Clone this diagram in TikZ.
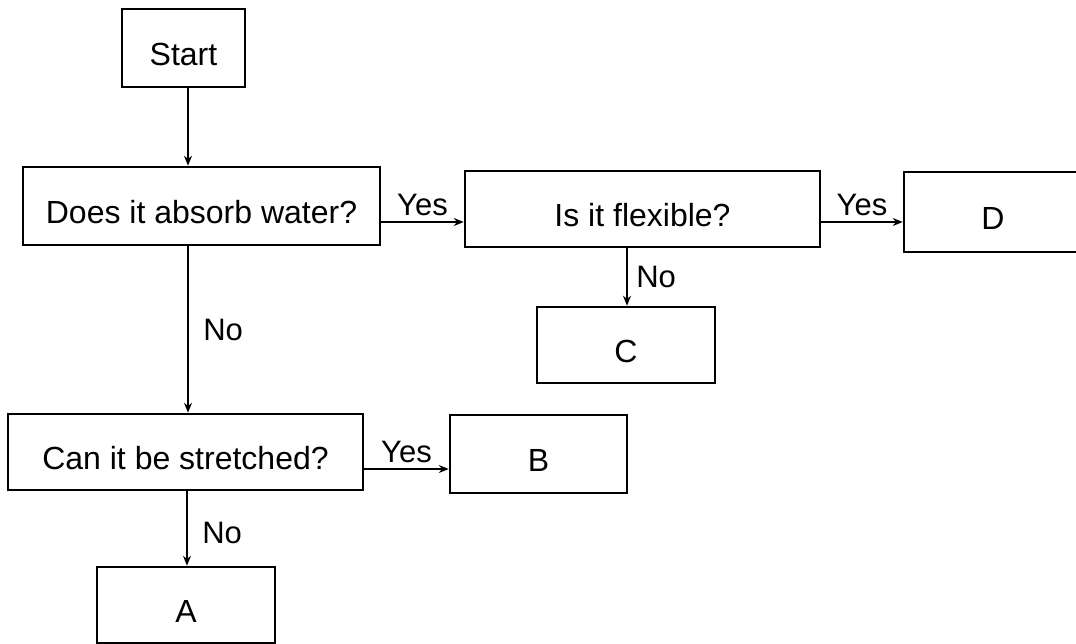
\documentclass[tikz,border=0pt]{standalone}
\usepackage{fontspec}
\setmainfont{Liberation Sans}
\usetikzlibrary{arrows.meta}
\begin{document}
\begin{tikzpicture}[x=1pt,y=-1pt,
  box/.style={draw=black, line width=2.5pt, rectangle, inner sep=0pt,
    font=\fontsize{32}{38}\selectfont, text height=35pt, text depth=0pt},
  lbl/.style={font=\fontsize{31}{37}\selectfont, inner sep=0pt,
    text height=22pt, text depth=0pt},
  arr/.style={line width=2.5pt, -{Stealth[length=10pt,width=8pt]}}]
\useasboundingbox (0,0) rectangle (1076,644);
\fill[white] (0,0) rectangle (1076,644);
\clip (0,0) rectangle (1076,644);
\node[box, minimum width=123pt, minimum height=78pt] (start) at (183.5,48) {Start};
\node[box, minimum width=357pt, minimum height=78pt] (q1) at (201.5,206) {Does it absorb water?};
\node[box, minimum width=355pt, minimum height=76pt] (q2) at (642.5,209) {Is it flexible?};
\node[box, minimum width=178pt, minimum height=80pt] (d) at (993,212) {D};
\node[box, minimum width=178pt, minimum height=76pt] (c) at (626,345) {C};
\node[box, minimum width=355pt, minimum height=76pt] (q3) at (185.5,452) {Can it be stretched?};
\node[box, minimum width=177pt, minimum height=78pt] (b) at (538.5,454) {B};
\node[box, minimum width=178pt, minimum height=76pt] (a) at (186,605) {A};
\coordinate (x1) at (188,0);
\coordinate (x2) at (627,0);
\coordinate (x3) at (187,0);
\coordinate (y1) at (0,222);
\coordinate (y3) at (0,469);
\draw[arr] (start.south -| x1) -- (q1.north -| x1);
\draw[arr] (q1.east |- y1) -- (q2.west |- y1)
  node[lbl, midway, above=5pt] (l1) {Yes};
\draw[arr] (q2.east |- y1) -- (d.west |- y1)
  node[lbl, midway, above=5pt] (l2) {Yes};
\draw[arr] (q2.south -| x2) -- (c.north -| x2)
  node[lbl, midway, right=8pt] (l3) {No};
\draw[arr] (q1.south -| x1) -- (q3.north -| x1)
  node[lbl, midway, right=14pt] (l4) {No};
\draw[arr] (q3.east |- y3) -- (b.west |- y3)
  node[lbl, midway, above=5pt] (l5) {Yes};
\draw[arr] (q3.south -| x3) -- (a.north -| x3)
  node[lbl, pos=0.55, right=14pt] (l6) {No};
\end{tikzpicture}
\end{document}
